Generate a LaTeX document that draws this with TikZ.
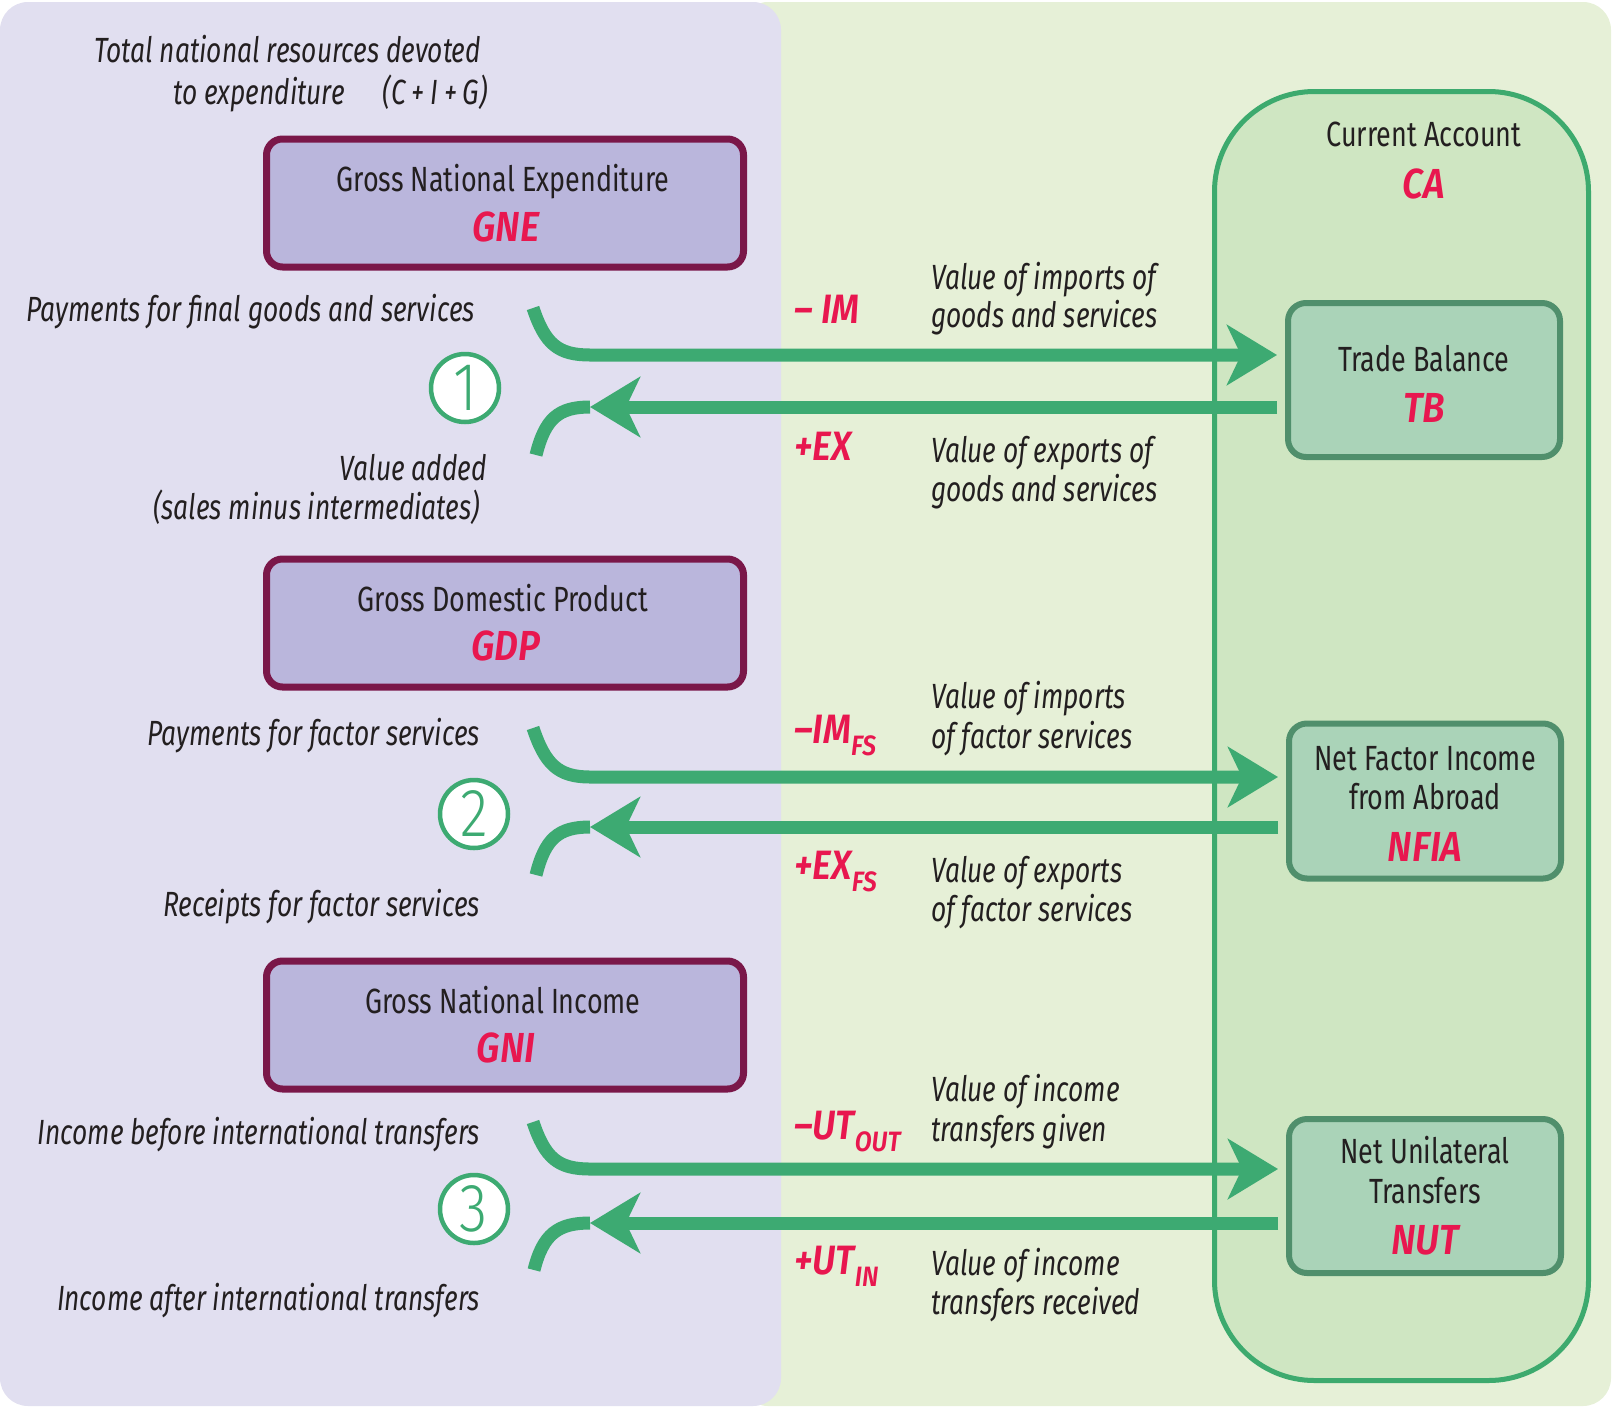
\documentclass[tikz,border=0pt]{standalone}
\usepackage{fontspec}
\setmainfont{Fira Sans}[FakeStretch=0.77]
\newfontfamily\notefont{Fira Sans}[FakeStretch=0.753]
\newfontfamily\keyfont{Fira Sans}[FakeStretch=0.88, BoldItalicFont={Fira Sans SemiBold Italic}]
\newfontfamily\digitfont{Fira Sans Light}[FakeStretch=0.85]
\usetikzlibrary{arrows.meta}

\definecolor{lavbg}{HTML}{E1DFF0}
\definecolor{greenbg}{HTML}{E6F0D7}
\definecolor{cafill}{HTML}{CFE6C2}
\definecolor{caline}{HTML}{3DAA6E}
\definecolor{subfill}{HTML}{AAD3B8}
\definecolor{subline}{HTML}{508F6C}
\definecolor{aggfill}{HTML}{BAB6DC}
\definecolor{aggline}{HTML}{7A1749}
\definecolor{keyred}{HTML}{E8174F}
\definecolor{flowgreen}{HTML}{3DAA72}
\definecolor{ink}{HTML}{231F20}

\newcommand\lowsub[1]{\raisebox{-0.3em}{\fontsize{28}{28}\selectfont #1}}

\begin{document}
\begin{tikzpicture}[x=1pt,y=-1pt,
  every node/.style={inner sep=0pt, text=ink},
  body/.style={anchor=mid, font=\fontsize{35}{41}\selectfont},
  note/.style={font=\notefont\fontsize{35}{41}\selectfont\itshape},
  keylbl/.style={anchor=mid, font=\keyfont\fontsize{42}{46}\selectfont\bfseries\itshape, text=keyred},
  flowlbl/.style={anchor=mid west, font=\keyfont\fontsize{41}{46}\selectfont\bfseries\itshape, text=keyred},
  desc/.style={note, anchor=mid west},
  leftnote/.style={note, anchor=mid east},
  aggbox/.style={draw=aggline, fill=aggfill, line width=7pt, rounded corners=16pt,
                 minimum width=477pt, minimum height=128pt},
  subbox/.style={draw=subline, fill=subfill, line width=6pt, rounded corners=18pt,
                 minimum width=272pt, minimum height=154pt},
  stepnum/.style={circle, draw=flowgreen, fill=white, line width=4.5pt, minimum size=68pt,
                  text=flowgreen, font=\digitfont\fontsize{68}{68}\selectfont},
  flow/.style={draw=flowgreen, line width=13pt},
  head/.style={-{Stealth[length=50pt,width=60pt,inset=14pt]}},
]
\useasboundingbox (0,0) rectangle (1613,1408);

% background panels
\fill[greenbg, rounded corners=28pt] (740,2) rectangle (1611,1406);
\fill[lavbg, rounded corners=28pt] (0,2) rectangle (781,1406);

% current account container
\node[draw=caline, fill=cafill, line width=5pt, rounded corners=100pt,
      minimum width=374pt, minimum height=1289pt] (ca) at (1401.5,736) {};
\node[body] (catitle) at (1424,144) {Current Account};
\node[keylbl] (catag) at (1424,196) {CA};

% components of the current account
\node[subbox] (tb) at (1424,380) {};
\node[body] at (1424,369) {Trade Balance};
\node[keylbl] at (1424,420) {TB};

\node[subbox, minimum height=155pt] (nfia) at (1425,801) {};
\node[body] at (1425,768) {Net Factor Income};
\node[body] at (1425,807) {from Abroad};
\node[keylbl] at (1425,859) {NFIA};

\node[subbox] (nut) at (1425,1196) {};
\node[body] at (1425,1161) {Net Unilateral};
\node[body] at (1425,1201) {Transfers};
\node[keylbl] at (1425,1252) {NUT};

% national aggregates
\node[aggbox] (gne) at (505,203) {};
\node[body] at (503,189) {Gross National Expenditure};
\node[keylbl] at (506,239) {GNE};

\node[aggbox] (gdp) at (505,623) {};
\node[body] at (503,609) {Gross Domestic Product};
\node[keylbl] at (506,658) {GDP};

\node[aggbox] (gni) at (505,1025) {};
\node[body] at (503,1011) {Gross National Income};
\node[keylbl] at (506,1060) {GNI};

% flow end points
\coordinate (s1) at (533,308); \coordinate (j1) at (590,355);
\coordinate (k1) at (590,407); \coordinate (e1) at (536,455);
\coordinate (s2) at (533,728); \coordinate (j2) at (590,777);
\coordinate (k2) at (590,827); \coordinate (e2) at (536,875);
\coordinate (s3) at (533,1122); \coordinate (j3) at (590,1169);
\coordinate (k3) at (590,1223); \coordinate (e3) at (534,1270);

% outgoing and incoming flows
\draw[flow, head, shorten >=8pt] (s1) .. controls +(12,36) and +(-32,0) .. (j1) -- (j1 -| tb.west);
\draw[flow, head, shorten <=8pt] (k1 -| tb.west) -- (k1);
\draw[flow] (k1) .. controls +(-32,0) and +(9,-36) .. (e1);

\draw[flow, head, shorten >=8pt] (s2) .. controls +(12,36) and +(-32,0) .. (j2) -- (j2 -| nfia.west);
\draw[flow, head, shorten <=8pt] (k2 -| nfia.west) -- (k2);
\draw[flow] (k2) .. controls +(-32,0) and +(9,-36) .. (e2);

\draw[flow, head, shorten >=8pt] (s3) .. controls +(12,36) and +(-32,0) .. (j3) -- (j3 -| nut.west);
\draw[flow, head, shorten <=8pt] (k3 -| nut.west) -- (k3);
\draw[flow] (k3) .. controls +(-32,0) and +(9,-36) .. (e3);

% step numbers
\node[stepnum] (n1) at (465,388) {1};
\node[stepnum] (n2) at (474,814) {2};
\node[stepnum] (n3) at (474,1209) {3};

% notes on the left
\node[leftnote] at (481,60) {Total national resources devoted};
\node[leftnote] at (345,102) {to expenditure};
\node[leftnote] at (488,102) {(C\,+\,I\,+\,G)};
\node[leftnote] at (475,319) {Payments for final goods and services};
\node[leftnote] at (487,478) {Value added};
\node[leftnote] at (480,517) {(sales minus intermediates)};
\node[leftnote] at (480,743) {Payments for factor services};
\node[leftnote] at (480,914) {Receipts for factor services};
\node[leftnote] at (480,1142) {Income before international transfers};
\node[leftnote] at (480,1308) {Income after international transfers};

% flow labels
\node[flowlbl] at (794,321) {\textendash\ IM};
\node[flowlbl] at (794,458) {+EX};
\node[flowlbl] at (794,741) {\textendash IM\lowsub{FS}};
\node[flowlbl] at (794,877) {+EX\lowsub{FS}};
\node[flowlbl] at (794,1137) {\textendash UT\lowsub{OUT}};
\node[flowlbl] at (794,1272) {+UT\lowsub{IN}};

% flow descriptions
\node[desc] at (931,287) {Value of imports of};
\node[desc] at (931,325) {goods and services};
\node[desc] at (931,460) {Value of exports of};
\node[desc] at (931,499) {goods and services};
\node[desc] at (931,706) {Value of imports};
\node[desc] at (931,746) {of factor services};
\node[desc] at (931,880) {Value of exports};
\node[desc] at (931,919) {of factor services};
\node[desc] at (931,1099) {Value of income};
\node[desc] at (931,1139) {transfers given};
\node[desc] at (931,1273) {Value of income};
\node[desc] at (931,1312) {transfers received};
\end{tikzpicture}
\end{document}
